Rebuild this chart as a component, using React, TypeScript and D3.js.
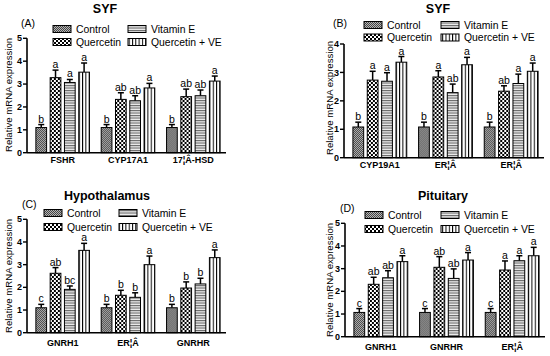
import * as d3 from "d3";

const groups = ["Control", "Quercetin", "Vitamin E", "Quercetin + VE"];
const patternIds = ["pCtrl", "pQue", "pVE", "pQVE"];

const genesA = ["FSHR", "CYP17A1", "17¦Â-HSD"];
const meansA = [[1.1, 3.28, 3.07, 3.52], [1.1, 2.33, 2.27, 2.83], [1.1, 2.45, 2.49, 3.13]];
const errsA = [[0.13, 0.33, 0.13, 0.4], [0.13, 0.29, 0.22, 0.2], [0.13, 0.33, 0.25, 0.22]];
const lettersA = [["b", "a", "a", "a"], ["b", "ab", "ab", "a"], ["b", "ab", "ab", "a"]];

const genesB = ["CYP19A1", "ER¦Â", "ER¦Â"];
const meansB = [[1.08, 2.73, 2.69, 3.36], [1.08, 2.84, 2.29, 3.27], [1.08, 2.34, 2.61, 3.04]];
const errsB = [[0.17, 0.31, 0.3, 0.2], [0.17, 0.22, 0.3, 0.26], [0.17, 0.19, 0.33, 0.29]];
const lettersB = [["b", "a", "a", "a"], ["b", "a", "ab", "a"], ["b", "ab", "a", "a"]];

const genesC = ["GNRH1", "ER¦Â", "GNRHR"];
const meansC = [[1.1, 2.62, 1.91, 3.63], [1.1, 1.65, 1.56, 3.0], [1.1, 1.97, 2.15, 3.31]];
const errsC = [[0.15, 0.25, 0.15, 0.31], [0.15, 0.22, 0.2, 0.38], [0.15, 0.27, 0.25, 0.34]];
const lettersC = [["c", "ab", "bc", "a"], ["b", "b", "b", "a"], ["b", "b", "b", "a"]];

const genesD = ["GNRH1", "GNRHR", "ER¦Â"];
const meansD = [[1.07, 2.31, 2.6, 3.31], [1.07, 3.06, 2.57, 3.38], [1.07, 2.94, 3.35, 3.57]];
const errsD = [[0.17, 0.31, 0.31, 0.26], [0.17, 0.47, 0.42, 0.33], [0.17, 0.4, 0.22, 0.37]];
const lettersD = [["c", "ab", "ab", "a"], ["c", "ab", "ab", "a"], ["c", "a", "a", "a"]];

const FONT = "'Liberation Sans', Arial, sans-serif";

type PanelProps = {
  title: string; tag: string; genes: string[];
  means: number[][]; errs: number[][]; letters: string[][];
  yMax: number; axisX: number; axisEnd: number; y0: number; yTop: number;
  titleX: number; titleY: number; tagX: number; tagY: number;
  legX1: number; legX2: number; legY1: number; legY2: number;
  yTitleX: number; yTitleY: number; xLabelY: number;
};

function Panel(p: PanelProps) {
  const y = d3.scaleLinear().domain([0, p.yMax]).range([p.y0, p.yTop]);
  const x0 = d3.scaleBand<number>()
    .domain(d3.range(p.genes.length))
    .range([p.axisX + 3, p.axisEnd])
    .paddingInner(0.18)
    .paddingOuter(0.09);
  const x1 = d3.scaleBand<number>()
    .domain(d3.range(groups.length))
    .range([0, x0.bandwidth()])
    .paddingInner(0.25);
  const bw = x1.bandwidth();

  const legend = [
    [p.legX1, p.legY1], [p.legX1, p.legY2], [p.legX2, p.legY1], [p.legX2, p.legY2],
  ];

  return (
    <g fontFamily={FONT}>
      <text x={p.titleX} y={p.titleY} textAnchor="middle" fontWeight="bold" fontSize={12.5}>{p.title}</text>
      <text x={p.tagX} y={p.tagY} fontSize={10.5}>{p.tag}</text>
      {groups.map((g, i) => (
        <g key={g}>
          <rect x={legend[i][0]} y={legend[i][1] - 3.5} width={18} height={7}
            fill={`url(#${patternIds[i]})`} stroke="#000" strokeWidth={1} />
          <text x={legend[i][0] + 23} y={legend[i][1]} dy="0.36em" fontSize={10.4}>{g}</text>
        </g>
      ))}
      {p.genes.map((gene, gi) => (
        <g key={gi} transform={`translate(${x0(gi)},0)`}>
          {p.means[gi].map((m, k) => {
            const bx = x1(k)!;
            const top = y(m + p.errs[gi][k]);
            return (
              <g key={k}>
                <line x1={bx + bw / 2} x2={bx + bw / 2} y1={y(m)} y2={top} stroke="#000" strokeWidth={1.5} />
                <line x1={bx + bw / 2 - 3} x2={bx + bw / 2 + 3} y1={top} y2={top} stroke="#000" strokeWidth={1.5} />
                <rect x={bx} y={y(m)} width={bw} height={y(0) - y(m)}
                  fill={`url(#${patternIds[k]})`} stroke="#000" strokeWidth={1} />
                <text x={bx + bw / 2} y={top - 2} textAnchor="middle" fontSize={10.5}>{p.letters[gi][k]}</text>
              </g>
            );
          })}
          <text x={x0.bandwidth() / 2} y={p.xLabelY} textAnchor="middle" fontWeight="bold" fontSize={9}>{gene}</text>
        </g>
      ))}
      <line x1={p.axisX} x2={p.axisEnd} y1={p.y0} y2={p.y0} stroke="#000" strokeWidth={1.6} />
      <line x1={p.axisX} x2={p.axisX} y1={p.y0} y2={p.yTop} stroke="#000" strokeWidth={1.6} />
      {y.ticks(p.yMax).map((t) => (
        <g key={t}>
          <line x1={p.axisX - 4} x2={p.axisX} y1={y(t)} y2={y(t)} stroke="#000" strokeWidth={1.4} />
          <text x={p.axisX - 5} y={y(t)} dy="0.35em" textAnchor="end" fontWeight="bold" fontSize={9}>{t}</text>
        </g>
      ))}
      <text transform={`translate(${p.yTitleX},${p.yTitleY}) rotate(-90)`} textAnchor="middle"
        dy="0.35em" fontSize={9.6}>Relative mRNA expression</text>
    </g>
  );
}

export default function App() {
  return (
    <svg width={550} height={356} style={{ position: "absolute", left: 0, top: 0, background: "#fff" }}>
      <defs>
        <pattern id="pCtrl" width={2} height={2} patternUnits="userSpaceOnUse">
          <rect width={2} height={2} fill="#b5b5b5" />
          <rect width={1} height={1} fill="#444" />
          <rect x={1} y={1} width={1} height={1} fill="#444" />
        </pattern>
        <pattern id="pQue" width={4} height={4} patternUnits="userSpaceOnUse">
          <rect width={4} height={4} fill="#fff" />
          <rect width={2} height={2} fill="#000" />
          <rect x={2} y={2} width={2} height={2} fill="#000" />
        </pattern>
        <pattern id="pVE" width={2.5} height={2.5} patternUnits="userSpaceOnUse">
          <rect width={2.5} height={2.5} fill="#eee" />
          <rect width={2.5} height={1.1} fill="#666" />
        </pattern>
        <pattern id="pQVE" width={3.3} height={3.3} patternUnits="userSpaceOnUse">
          <rect width={3.3} height={3.3} fill="#fff" />
          <rect width={1} height={3.3} fill="#000" />
        </pattern>
      </defs>
      <Panel title="SYF" tag="(A)" genes={genesA} means={meansA} errs={errsA} letters={lettersA}
        yMax={5} axisX={27} axisEnd={226} y0={152.7} yTop={38.3}
        titleX={105} titleY={12.7} tagX={21} tagY={27}
        legX1={53} legX2={128} legY1={29} legY2={42}
        yTitleX={9} yTitleY={95} xLabelY={163} />
      <Panel title="SYF" tag="(B)" genes={genesB} means={meansB} errs={errsB} letters={lettersB}
        yMax={4} axisX={344} axisEnd={544} y0={157.7} yTop={44}
        titleX={438} titleY={13} tagX={333} tagY={27}
        legX1={364} legX2={441} legY1={25} legY2={37.5}
        yTitleX={330} yTitleY={98} xLabelY={168} />
      <Panel title="Hypothalamus" tag="(C)" genes={genesC} means={meansC} errs={errsC} letters={lettersC}
        yMax={5} axisX={27} axisEnd={226} y0={332.7} yTop={219.3}
        titleX={107} titleY={200} tagX={22} tagY={208}
        legX1={44} legX2={119} legY1={213} legY2={227}
        yTitleX={9} yTitleY={276} xLabelY={345.5} />
      <Panel title="Pituitary" tag="(D)" genes={genesD} means={meansD} errs={errsD} letters={lettersD}
        yMax={5} axisX={345} axisEnd={545} y0={336.7} yTop={223.3}
        titleX={443} titleY={200} tagX={340} tagY={212}
        legX1={365} legX2={441} legY1={215} legY2={229}
        yTitleX={330} yTitleY={280} xLabelY={349.5} />
    </svg>
  );
}
